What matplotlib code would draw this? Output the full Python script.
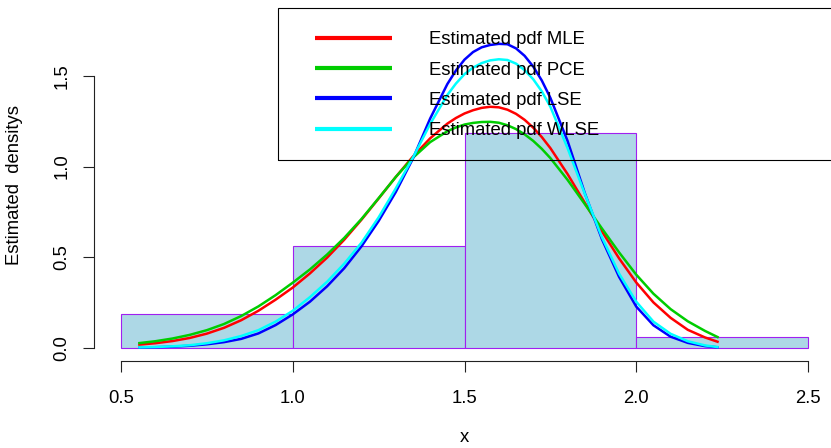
import matplotlib
matplotlib.use('Agg')
import matplotlib.pyplot as plt
from matplotlib.patches import Rectangle
from matplotlib.lines import Line2D

plt.rcParams['font.family'] = ['Liberation Sans', 'DejaVu Sans']

# ---------------- data ----------------
bin_edges = [0.5, 1.0, 1.5, 2.0, 2.5]
bin_counts = [3, 9, 19, 1]

x_grid = [0.55, 0.60, 0.65, 0.70, 0.75, 0.80, 0.85, 0.90, 0.95, 1.00,
          1.05, 1.10, 1.15, 1.20, 1.25, 1.30, 1.35, 1.40, 1.45, 1.475,
          1.50, 1.525, 1.55, 1.575, 1.60, 1.625, 1.65, 1.675, 1.70, 1.725,
          1.75, 1.80, 1.85, 1.90, 1.95, 2.00, 2.05, 2.10, 2.15, 2.20, 2.24]

pdf_mle = [0.018, 0.026, 0.038, 0.055, 0.079, 0.111, 0.153, 0.205, 0.266, 0.333,
           0.411, 0.498, 0.597, 0.707, 0.824, 0.943, 1.056, 1.156, 1.237, 1.268,
           1.293, 1.311, 1.324, 1.330, 1.327, 1.314, 1.291, 1.258, 1.215, 1.163,
           1.102, 0.959, 0.801, 0.643, 0.494, 0.361, 0.251, 0.166, 0.100, 0.058, 0.032]

pdf_pce = [0.026, 0.037, 0.052, 0.072, 0.098, 0.132, 0.176, 0.229, 0.291, 0.360,
           0.433, 0.515, 0.607, 0.711, 0.826, 0.943, 1.049, 1.135, 1.195, 1.216,
           1.232, 1.241, 1.246, 1.247, 1.242, 1.228, 1.207, 1.178, 1.142, 1.098,
           1.047, 0.927, 0.794, 0.659, 0.527, 0.404, 0.299, 0.214, 0.147, 0.094, 0.057]

pdf_lse = [0.002, 0.004, 0.007, 0.012, 0.020, 0.032, 0.050, 0.080, 0.126, 0.185,
           0.255, 0.340, 0.440, 0.560, 0.700, 0.860, 1.045, 1.265, 1.455, 1.530,
           1.590, 1.632, 1.658, 1.671, 1.677, 1.675, 1.652, 1.611, 1.552, 1.475,
           1.379, 1.142, 0.855, 0.600, 0.392, 0.228, 0.125, 0.062, 0.028, 0.010, 0.003]

pdf_wlse = [0.003, 0.005, 0.009, 0.015, 0.026, 0.042, 0.066, 0.098, 0.145, 0.205,
            0.280, 0.365, 0.465, 0.580, 0.720, 0.880, 1.050, 1.235, 1.395, 1.458,
            1.510, 1.546, 1.571, 1.586, 1.592, 1.588, 1.568, 1.532, 1.482, 1.415,
            1.330, 1.102, 0.851, 0.611, 0.410, 0.255, 0.145, 0.078, 0.037, 0.014, 0.004]

series_labels = ['Estimated pdf MLE', 'Estimated pdf PCE',
                 'Estimated pdf LSE', 'Estimated pdf WLSE']
series_colors = ['#FF0000', '#00CD00', '#0000FF', '#00FFFF']

x_ticks = [0.5, 1.0, 1.5, 2.0, 2.5]
y_ticks = [0.0, 0.5, 1.0, 1.5]
x_tick_labels = ['0.5', '1.0', '1.5', '2.0', '2.5']
y_tick_labels = ['0.0', '0.5', '1.0', '1.5']
x_label = 'x'
y_label = 'Estimated  densitys'
y_max = 1.8

# ---------------- figure ----------------
W, H = 831, 448
FS = 13.3
fig = plt.figure(figsize=(W / 100, H / 100), dpi=100)
ax = fig.add_axes([93.5 / W, 1 - 361.0 / H, 742.0 / W, (361.0 - 8.5) / H])

xr = bin_edges[-1] - bin_edges[0]
ax.set_xlim(bin_edges[0] - 0.04 * xr, bin_edges[-1] + 0.04 * xr)
ax.set_ylim(-0.04 * y_max, y_max * 1.04)

n = sum(bin_counts)
widths = [bin_edges[i + 1] - bin_edges[i] for i in range(len(bin_counts))]
density = [c / (n * w) for c, w in zip(bin_counts, widths)]
ax.bar(bin_edges[:-1], density, width=widths, align='edge',
       color='#ADD8E6', edgecolor='#A020F0', linewidth=0.8, zorder=1)

curves = [pdf_mle, pdf_pce, pdf_lse, pdf_wlse]
for ys, col in zip(curves, series_colors):
    ax.plot(x_grid, ys, color=col, linewidth=1.8, zorder=2,
            solid_capstyle='butt', solid_joinstyle='round')

# axes styling (R base look)
for s in ['top', 'right']:
    ax.spines[s].set_visible(False)
ax.spines['left'].set_bounds(y_ticks[0], y_ticks[-1])
ax.spines['bottom'].set_bounds(x_ticks[0], x_ticks[-1])
for s in ['left', 'bottom']:
    ax.spines[s].set_linewidth(0.8)
    ax.spines[s].set_color('#222222')

ax.set_xticks(x_ticks)
ax.set_xticklabels(x_tick_labels)
ax.set_yticks(y_ticks)
ax.set_yticklabels(y_tick_labels, rotation=90, va='center')
ax.tick_params(axis='both', direction='out', length=7.6, width=0.8,
               color='#222222', labelsize=FS)
ax.tick_params(axis='x', pad=13.0)
ax.tick_params(axis='y', pad=9.0)

fig.text(464 / W, 1 - 437 / H, x_label, ha='center', va='center', fontsize=FS)
fig.text(15 / W, 1 - 185 / H, y_label, ha='center', va='center',
         rotation=90, fontsize=FS)

# legend box (topright, transparent background)
box_left = (278 - 93.5) / 742.0
box_bottom = (361.0 - 160.0) / (361.0 - 8.5)
ax.add_patch(Rectangle((box_left, box_bottom), 1.0 - box_left, 1.0 - box_bottom,
                       transform=ax.transAxes, fill=False, edgecolor='black',
                       linewidth=0.8, clip_on=False, zorder=4))
handles = [Line2D([], [], color=c, linewidth=3.0, solid_capstyle='butt')
           for c in series_colors]
leg = ax.legend(handles, series_labels, loc='upper left',
                bbox_to_anchor=(306 / W, 1 - 22.0 / H),
                bbox_transform=fig.transFigure, frameon=False, borderpad=0,
                handlelength=4.15, handletextpad=2.0, labelspacing=0.72,
                fontsize=FS)
leg.set_zorder(5)

fig.savefig('out.png', dpi=100)
